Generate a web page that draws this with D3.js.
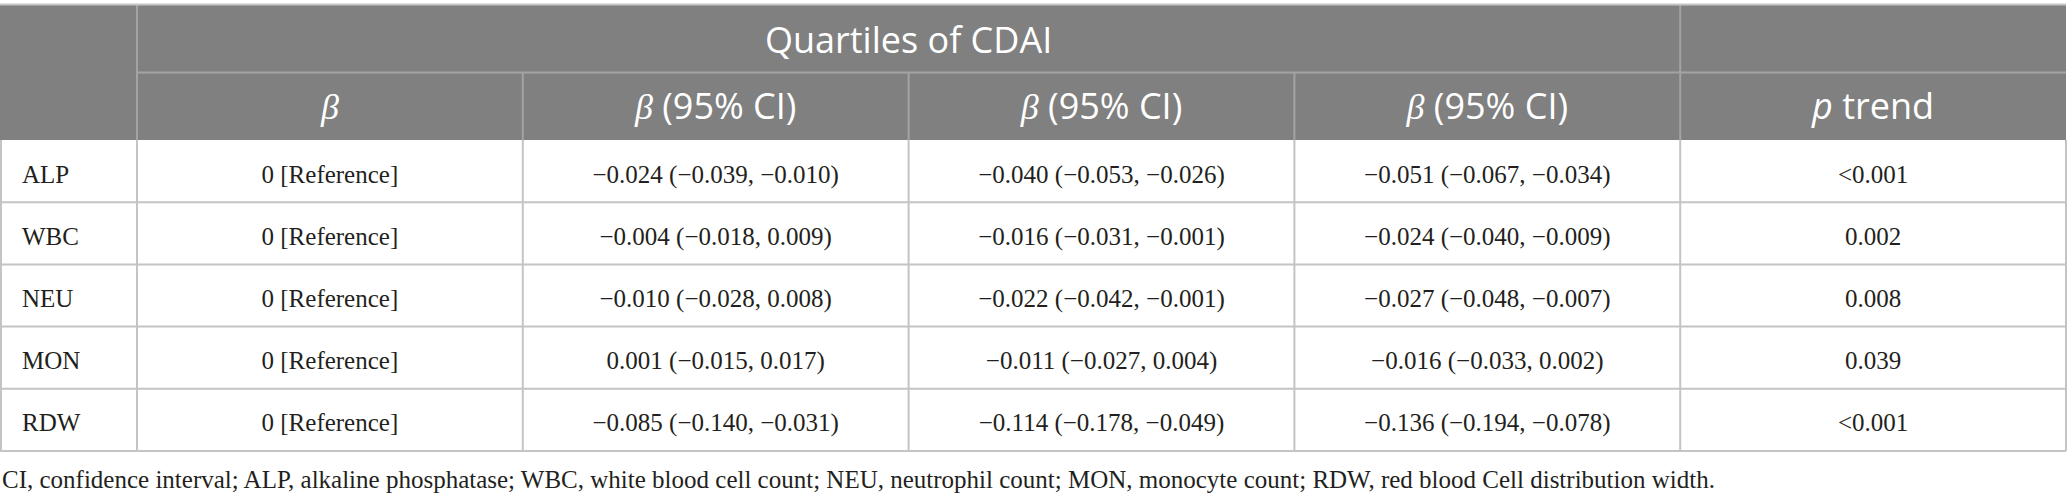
<!DOCTYPE html>
<html>
<head>
<meta charset="utf-8">
<script src="https://cdn.jsdelivr.net/npm/d3@7/dist/d3.min.js"></script>
<style>
  html, body { margin: 0; padding: 0; background: #fff; }
  svg { display: block; }
</style>
</head>
<body>
<div id="chart"></div>
<script>
// table values
var categories = ['ALP', 'WBC', 'NEU', 'MON', 'RDW'];
var quartile1 = ['0 [Reference]', '0 [Reference]', '0 [Reference]', '0 [Reference]', '0 [Reference]'];
var quartile2 = ['\u22120.024 (\u22120.039, \u22120.010)', '\u22120.004 (\u22120.018, 0.009)', '\u22120.010 (\u22120.028, 0.008)', '0.001 (\u22120.015, 0.017)', '\u22120.085 (\u22120.140, \u22120.031)'];
var quartile3 = ['\u22120.040 (\u22120.053, \u22120.026)', '\u22120.016 (\u22120.031, \u22120.001)', '\u22120.022 (\u22120.042, \u22120.001)', '\u22120.011 (\u22120.027, 0.004)', '\u22120.114 (\u22120.178, \u22120.049)'];
var quartile4 = ['\u22120.051 (\u22120.067, \u22120.034)', '\u22120.024 (\u22120.040, \u22120.009)', '\u22120.027 (\u22120.048, \u22120.007)', '\u22120.016 (\u22120.033, 0.002)', '\u22120.136 (\u22120.194, \u22120.078)'];
var pTrend = ['<0.001', '0.002', '0.008', '0.039', '<0.001'];
var groupTitle = 'Quartiles of CDAI';
var columnTitles = [['\u03b2', ''], ['\u03b2', ' (95% CI)'], ['\u03b2', ' (95% CI)'], ['\u03b2', ' (95% CI)'], ['p', ' trend']];
var footnote = 'CI, confidence interval; ALP, alkaline phosphatase; WBC, white blood cell count; NEU, neutrophil count; MON, monocyte count; RDW, red blood Cell distribution width.';

(function() {
	var width = 2067,
		height = 504,
		firstColWidth = 137,
		tableRight = 2066,
		headTop = 5,
		headMid = 72.5,
		headBottom = 140,
		bodyBottom = 451,
		footnoteWidth = 1739;

	var headerFill = '#808080',
		headerLine = '#a3a3a3',
		gridLine = '#c4c4c4',
		textColor = '#231f20',
		serif = '"Liberation Serif", "DejaVu Serif", serif',
		sans = '"Open Sans", "Noto Sans", sans-serif',
		headFont = 36;

	var rows = categories.map(function(c, i) {
		return [c, quartile1[i], quartile2[i], quartile3[i], quartile4[i], pTrend[i]];
	});

	var svg = d3.select('#chart').append('svg')
		.attr('width', width)
		.attr('height', height);

	// scales: data columns and body rows
	var x = d3.scaleBand()
		.domain(d3.range(columnTitles.length))
		.range([firstColWidth, tableRight]);

	var y = d3.scaleBand()
		.domain(categories)
		.range([headBottom, bodyBottom]);

	//Header background
	svg.append('rect')
		.attr('x', 0)
		.attr('y', headTop)
		.attr('width', tableRight)
		.attr('height', headBottom - headTop)
		.attr('fill', headerFill);

	// header lines
	var header = svg.append('g').attr('stroke', headerLine).attr('stroke-width', 2);
	header.append('line')
		.attr('x1', firstColWidth).attr('x2', tableRight)
		.attr('y1', headMid).attr('y2', headMid);
	header.selectAll('line.full')
		.data([firstColWidth, x(columnTitles.length - 1)])
		.enter().append('line')
			.attr('class', 'full')
			.attr('x1', function(d) { return d; })
			.attr('x2', function(d) { return d; })
			.attr('y1', headTop).attr('y2', headBottom);
	header.selectAll('line.sub')
		.data(d3.range(1, columnTitles.length - 1))
		.enter().append('line')
			.attr('class', 'sub')
			.attr('x1', function(d) { return x(d); })
			.attr('x2', function(d) { return x(d); })
			.attr('y1', headMid).attr('y2', headBottom);

	svg.append('line')
		.attr('x1', 0).attr('x2', tableRight)
		.attr('y1', headTop - 0.5).attr('y2', headTop - 0.5)
		.attr('stroke', '#c6c6c6')
		.attr('stroke-width', 2);

	svg.append('text')
		.attr('x', (firstColWidth + x(columnTitles.length - 1)) / 2)
		.attr('y', 53)
		.attr('text-anchor', 'middle')
		.attr('fill', '#fff')
		.attr('font-family', sans)
		.attr('font-size', headFont)
		.text(groupTitle);

	var titles = svg.append('g').selectAll('text')
		.data(columnTitles)
		.enter().append('text')
			.attr('x', function(d, i) { return x(i) + x.bandwidth() / 2; })
			.attr('y', 119)
			.attr('text-anchor', 'middle')
			.attr('fill', '#fff')
			.attr('font-family', sans)
			.attr('font-size', headFont);

	titles.append('tspan')
		.attr('font-style', 'italic')
		.attr('font-family', function(d) { return d[0] == 'p' ? sans : serif; })
		.text(function(d) { return d[0]; });
	titles.append('tspan')
		.text(function(d) { return d[1]; });

	// body grid
	var grid = svg.append('g').attr('stroke', gridLine).attr('stroke-width', 2).attr('fill', 'none');

	grid.selectAll('line.h')
		.data(categories)
		.enter().append('line')
			.attr('class', 'h')
			.attr('x1', 0).attr('x2', tableRight)
			.attr('y1', function(d) { return y(d) + y.bandwidth(); })
			.attr('y2', function(d) { return y(d) + y.bandwidth(); });

	grid.selectAll('line.v')
		.data([1].concat(d3.range(columnTitles.length)).concat([columnTitles.length]))
		.enter().append('line')
			.attr('class', 'v')
			.attr('x1', function(d, i) { return i == 0 ? 1 : (d < columnTitles.length ? x(d) : tableRight); })
			.attr('x2', function(d, i) { return i == 0 ? 1 : (d < columnTitles.length ? x(d) : tableRight); })
			.attr('y1', headBottom).attr('y2', bodyBottom);

	// body text
	var rowGroups = svg.append('g').selectAll('g')
		.data(rows)
		.enter().append('g')
			.attr('transform', function(d) { return 'translate(0,' + (y(d[0]) + y.bandwidth() / 2 + 11.5) + ')'; });

	rowGroups.selectAll('text')
		.data(function(d) { return d; })
		.enter().append('text')
			.attr('x', function(d, i) { return i == 0 ? 22 : x(i - 1) + x.bandwidth() / 2; })
			.attr('text-anchor', function(d, i) { return i == 0 ? 'start' : 'middle'; })
			.attr('fill', textColor)
			.attr('font-family', serif)
			.attr('font-size', 25)
			.text(function(d) { return d; });

	var note = svg.append('text')
		.attr('x', 2)
		.attr('y', 488)
		.attr('fill', textColor)
		.attr('font-family', serif)
		.attr('font-size', 23)
		.text(footnote);

	// scale footnote so it runs as far as in the source
	var noteLen = note.node().getComputedTextLength();
	if (noteLen > 0) {
		note.attr('font-size', Math.min(25, 23 * footnoteWidth / noteLen));
	}
}());
</script>
</body>
</html>
